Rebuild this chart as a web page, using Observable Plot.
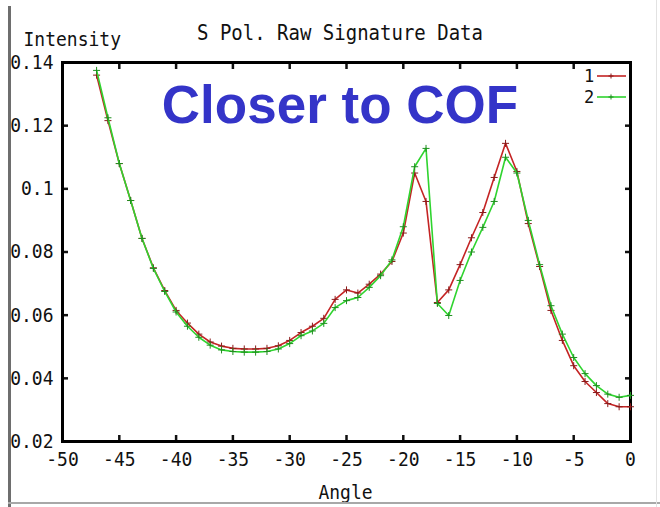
<!DOCTYPE html>
<html>
<head>
<meta charset="utf-8">
<script src="https://cdn.jsdelivr.net/npm/d3@7"></script>
<script src="https://cdn.jsdelivr.net/npm/@observablehq/plot@0.6"></script>
<style>
  html, body { margin: 0; padding: 0; background: #fff; }
  #wrap { position: relative; width: 660px; height: 507px; overflow: hidden; background: #fff; }
  #chart { position: absolute; left: 0; top: 0; }
  .bl { position: absolute; left: 8px; top: 6px; width: 3px; height: 501px; background: #6e6e6e; }
  .bb { position: absolute; left: 8px; top: 502px; width: 652px; height: 2px; background: #a8a8a8; }
  .br { position: absolute; left: 656px; top: 0px; width: 1px; height: 507px; background: #e2e2e2; }
  #legend { position: absolute; left: 575px; top: 62px; }
</style>
</head>
<body>
<div id="wrap">
  <div id="chart"></div>
  <div class="bl"></div>
  <div class="bb"></div>
  <div class="br"></div>
  <div id="legend"></div>
</div>
<script>
// ---- data ----
const angles = [-47,-46,-45,-44,-43,-42,-41,-40,-39,-38,-37,-36,-35,-34,-33,-32,-31,-30,-29,-28,-27,-26,-25,-24,-23,-22,-21,-20,-19,-18,-17,-16,-15,-14,-13,-12,-11,-10,-9,-8,-7,-6,-5,-4,-3,-2,-1,0];
const series1 = [0.136,0.1216,0.108,0.0963,0.0843,0.075,0.0678,0.0615,0.0575,0.054,0.0515,0.0502,0.0495,0.0493,0.0493,0.0495,0.0503,0.052,0.0545,0.0565,0.059,0.065,0.068,0.067,0.0698,0.073,0.077,0.086,0.105,0.096,0.064,0.068,0.076,0.0845,0.0925,0.1036,0.1144,0.1055,0.089,0.0754,0.0615,0.052,0.044,0.039,0.0355,0.032,0.031,0.031];
const series2 = [0.1375,0.1225,0.108,0.0963,0.0843,0.0748,0.0675,0.061,0.0565,0.053,0.0505,0.049,0.0485,0.0483,0.0483,0.0485,0.0493,0.051,0.0535,0.055,0.0574,0.0624,0.0646,0.0656,0.0688,0.0725,0.0775,0.088,0.107,0.1128,0.0637,0.0599,0.071,0.080,0.0878,0.096,0.110,0.105,0.090,0.076,0.063,0.054,0.0466,0.0415,0.0377,0.035,0.034,0.0346];
const seriesNames = ["1", "2"];
const seriesColors = ["#c42424", "#2fd42f"];
const xTicks = [-50,-45,-40,-35,-30,-25,-20,-15,-10,-5,0];
const yTicks = [0.02,0.04,0.06,0.08,0.1,0.12,0.14];
const titleText = "S Pol. Raw Signature Data";
const xLabel = "Angle";
const yLabel = "Intensity";
const noteText = "Closer to COF";

const d1 = angles.map((a, i) => ({angle: a, value: series1[i]}));
const d2 = angles.map((a, i) => ({angle: a, value: series2[i]}));
const mono = "DejaVu Sans Mono";

const chart = Plot.plot({
  width: 660,
  height: 507,
  marginLeft: 62,
  marginRight: 30,
  marginTop: 62,
  marginBottom: 66,
  style: {fontFamily: mono, fontSize: "18px", color: "#111", background: "transparent", overflow: "visible"},
  x: {domain: [-50, 0]},
  y: {domain: [0.02, 0.14]},
  marks: [
    Plot.axisX(xTicks, {anchor: "bottom", tickSize: -6, tickPadding: 16, strokeWidth: 2.5, tickFormat: d => String(d), label: null, fontSize: 18}),
    Plot.axisX(xTicks, {anchor: "top", tickSize: -6, strokeWidth: 2.5, tickFormat: () => "", label: null}),
    Plot.axisY(yTicks, {anchor: "left", tickSize: -6, tickPadding: 15, strokeWidth: 2.5, tickFormat: d => String(d), label: null, fontSize: 18}),
    Plot.axisY(yTicks, {anchor: "right", tickSize: -6, strokeWidth: 2.5, tickFormat: () => "", label: null}),
    Plot.frame({stroke: "#000", strokeWidth: 3}),
    Plot.line(d1, {x: "angle", y: "value", stroke: seriesColors[0], strokeWidth: 1.6}),
    Plot.dot(d1, {x: "angle", y: "value", symbol: "plus", r: 2.4, stroke: "#8a1a1a", strokeWidth: 1}),
    Plot.line(d2, {x: "angle", y: "value", stroke: seriesColors[1], strokeWidth: 1.6}),
    Plot.dot(d2, {x: "angle", y: "value", symbol: "plus", r: 2.4, stroke: "#1f8f1f", strokeWidth: 1}),
    Plot.text([titleText], {frameAnchor: "top", dx: -6.5, dy: -23, lineAnchor: "bottom", fontSize: 19, fontFamily: mono, fill: "#111"}),
    Plot.text([yLabel], {frameAnchor: "top-left", dx: -39, dy: -17, textAnchor: "start", lineAnchor: "bottom", fontSize: 18, fontFamily: mono, fill: "#111"}),
    Plot.text([xLabel], {frameAnchor: "bottom", dx: -1, dy: 57, lineAnchor: "bottom", fontSize: 18, fontFamily: mono, fill: "#111"}),
    Plot.text([noteText], {frameAnchor: "top", dx: -6.5, dy: 60, lineAnchor: "bottom", fontSize: 53, fontWeight: "bold", fontFamily: "Liberation Sans", fill: "#3434c8"})
  ]
});
document.getElementById("chart").appendChild(chart);

// stretch the small monospaced texts vertically, like the gnuplot font of the reference
d3.select(chart).selectAll("text").each(function() {
  if (this.textContent === noteText) return;
  const t = this.getAttribute("transform");
  if (t) this.setAttribute("transform", t + " scale(1,1.1)");
});

// legend (inside the plot frame, top-right, as in the reference)
const lg = d3.select("#legend").append("svg").attr("width", 70).attr("height", 50)
  .style("font-family", mono).style("font-size", "17px");
seriesNames.forEach((name, i) => {
  const g = lg.append("g").attr("transform", `translate(0,${13 + i * 21})`);
  g.append("text").attr("x", 14).attr("y", 7).attr("text-anchor", "middle").attr("fill", "#111").text(name);
  g.append("line").attr("x1", 22).attr("x2", 51).attr("y1", 1).attr("y2", 1)
    .attr("stroke", seriesColors[i]).attr("stroke-width", 1.6);
  g.append("path").attr("d", "M33.5,1h5M36,-1.5v5").attr("stroke", i === 0 ? "#8a1a1a" : "#1f8f1f").attr("stroke-width", 1);
});
</script>
</body>
</html>
